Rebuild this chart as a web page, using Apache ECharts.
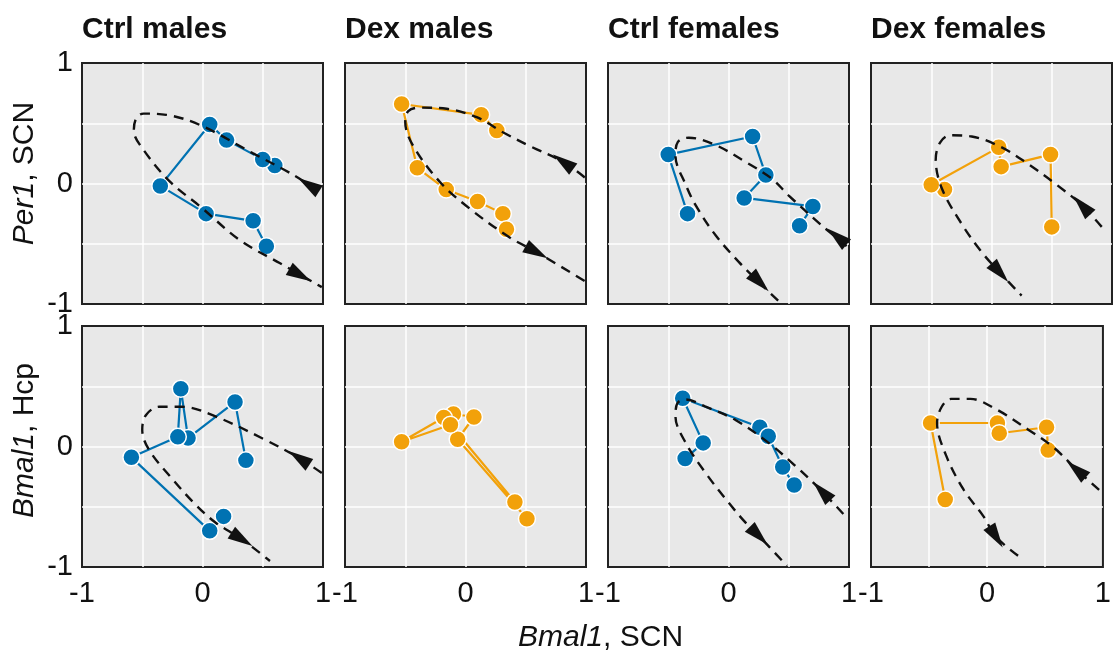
<!DOCTYPE html>
<html>
<head>
<meta charset="utf-8">
<script src="https://cdn.jsdelivr.net/npm/echarts@6/dist/echarts.min.js"></script>
<style>
  html, body { margin: 0; padding: 0; background: #fff; }
  #phasePlots { width: 1114px; height: 655px; }
</style>
</head>
<body>
<div id="phasePlots"></div>
<script>
// panel headings and row labels
const panelTitles = ['Ctrl males', 'Dex males', 'Ctrl females', 'Dex females'];
const rowGenes = ['Per1', 'Bmal1'];
const rowTissues = [', SCN', ', Hcp'];
const tickLabels = [-1, 0, 1];

// trajectories (Bmal1 SCN, y gene) — top row: Per1 SCN
const ctrlMalesPer1 = [[0.60, 0.15], [0.50, 0.20], [0.20, 0.36], [0.06, 0.49], [-0.35, -0.02], [0.03, -0.25], [0.42, -0.31], [0.53, -0.52]];
const dexMalesPer1 = [[0.26, 0.44], [0.13, 0.57], [-0.53, 0.66], [-0.40, 0.13], [-0.16, -0.05], [0.10, -0.15], [0.31, -0.25], [0.34, -0.38]];
const ctrlFemalesPer1 = [[-0.34, -0.25], [-0.50, 0.24], [0.20, 0.39], [0.31, 0.07], [0.13, -0.12], [0.70, -0.19], [0.59, -0.35]];
const dexFemalesPer1 = [[-0.39, -0.05], [-0.50, -0.01], [0.06, 0.30], [0.08, 0.14], [0.49, 0.24], [0.50, -0.36]];
// bottom row: Bmal1 Hcp
const ctrlMalesBmal1 = [[0.36, -0.115], [0.27, 0.37], [-0.12, 0.07], [-0.18, 0.48], [-0.205, 0.08], [-0.59, -0.09], [0.06, -0.70], [0.175, -0.58]];
const dexMalesBmal1 = [[0.51, -0.60], [-0.065, 0.06], [0.07, 0.245], [-0.10, 0.27], [-0.18, 0.24], [-0.53, 0.04], [-0.125, 0.18], [0.41, -0.46]];
const ctrlFemalesBmal1 = [[-0.36, -0.10], [-0.21, 0.03], [-0.38, 0.40], [0.26, 0.16], [0.33, 0.085], [0.45, -0.17], [0.545, -0.32]];
const dexFemalesBmal1 = [[-0.36, -0.44], [-0.486, 0.195], [0.09, 0.195], [0.106, 0.11], [0.514, 0.16], [0.528, -0.03]];

// reference (dashed) cycles, listed in the direction of travel
const ctrlMalesPer1Ref = [[0.96, -0.06], [0.73, 0.085], [0.42, 0.25], [-0.02, 0.485], [-0.30, 0.57], [-0.49, 0.58], [-0.55, 0.54], [-0.57, 0.44], [-0.49, 0.28], [-0.27, 0.015], [-0.02, -0.19], [0.31, -0.47], [0.64, -0.66], [0.99, -0.86]];
const dexMalesPer1Ref = [[0.99, 0.05], [0.81, 0.18], [0.535, 0.31], [0.31, 0.425], [0.093, 0.55], [-0.156, 0.62], [-0.38, 0.63], [-0.475, 0.60], [-0.50, 0.51], [-0.433, 0.31], [-0.21, 0.01], [0.037, -0.21], [0.37, -0.45], [0.59, -0.57], [0.99, -0.81]];
const ctrlFemalesPer1Ref = [[0.98, -0.52], [0.77, -0.345], [0.50, -0.10], [0.36, 0.04], [0.14, 0.18], [-0.11, 0.32], [-0.33, 0.38], [-0.42, 0.345], [-0.44, 0.23], [-0.355, -0.01], [-0.273, -0.18], [-0.107, -0.43], [0.085, -0.65], [0.264, -0.83], [0.43, -0.99]];
const dexFemalesPer1Ref = [[0.915, -0.36], [0.75, -0.18], [0.527, 0.0], [0.306, 0.16], [0.085, 0.30], [-0.164, 0.39], [-0.344, 0.40], [-0.427, 0.34], [-0.463, 0.20], [-0.41, -0.046], [-0.247, -0.336], [-0.081, -0.57], [0.07, -0.74], [0.25, -0.93]];
const ctrlMalesBmal1Ref = [[0.99, -0.22], [0.80, -0.095], [0.52, 0.056], [0.107, 0.25], [-0.17, 0.33], [-0.36, 0.33], [-0.47, 0.26], [-0.50, 0.14], [-0.445, -0.026], [-0.25, -0.27], [-0.06, -0.48], [0.107, -0.63], [0.327, -0.77], [0.56, -0.95]];
const ctrlFemalesBmal1Ref = [[0.953, -0.56], [0.774, -0.37], [0.554, -0.16], [0.333, 0.03], [0.058, 0.22], [-0.19, 0.33], [-0.355, 0.39], [-0.424, 0.36], [-0.44, 0.25], [-0.355, 0.03], [-0.19, -0.22], [0.0, -0.465], [0.14, -0.63], [0.25, -0.74], [0.485, -0.99]];
const dexFemalesBmal1Ref = [[0.967, -0.36], [0.77, -0.19], [0.578, -0.01], [0.356, 0.14], [0.078, 0.31], [-0.144, 0.395], [-0.31, 0.395], [-0.39, 0.33], [-0.43, 0.195], [-0.35, -0.08], [-0.20, -0.36], [-0.03, -0.58], [0.078, -0.75], [0.30, -0.93]];

// arrowheads sitting on the dashed cycles
const ctrlMalesPer1Arrows = [[0.88, -0.01], [0.81, -0.76]];
const dexMalesPer1Arrows = [[0.81, 0.18], [0.59, -0.57]];
const ctrlFemalesPer1Arrows = [[0.90, -0.44], [0.26, -0.82]];
const dexFemalesPer1Arrows = [[0.75, -0.18], [0.07, -0.74]];
const ctrlMalesBmal1Arrows = [[0.80, -0.095], [0.327, -0.77]];
const ctrlFemalesBmal1Arrows = [[0.774, -0.37], [0.25, -0.74]];
const dexFemalesBmal1Arrows = [[0.77, -0.19], [0.078, -0.75]];

const BLUE = '#0072b2';
const ORANGE = '#f2a10a';
const FONT = '"Liberation Sans", Arial, sans-serif';

const panels = [
  { pts: ctrlMalesPer1, ref: ctrlMalesPer1Ref, arrows: ctrlMalesPer1Arrows, color: BLUE },
  { pts: dexMalesPer1, ref: dexMalesPer1Ref, arrows: dexMalesPer1Arrows, color: ORANGE },
  { pts: ctrlFemalesPer1, ref: ctrlFemalesPer1Ref, arrows: ctrlFemalesPer1Arrows, color: BLUE },
  { pts: dexFemalesPer1, ref: dexFemalesPer1Ref, arrows: dexFemalesPer1Arrows, color: ORANGE },
  { pts: ctrlMalesBmal1, ref: ctrlMalesBmal1Ref, arrows: ctrlMalesBmal1Arrows, color: BLUE },
  { pts: dexMalesBmal1, ref: null, arrows: [], color: ORANGE },
  { pts: ctrlFemalesBmal1, ref: ctrlFemalesBmal1Ref, arrows: ctrlFemalesBmal1Arrows, color: BLUE },
  { pts: dexFemalesBmal1, ref: dexFemalesBmal1Ref, arrows: dexFemalesBmal1Arrows, color: ORANGE },
];

// rotation of an arrowhead = direction of the nearest segment of its cycle
const arrowAngle = (ref, p) => {
  let best = 0, bestD = Infinity;
  for (let i = 0; i < ref.length - 1; i++) {
    const mx = (ref[i][0] + ref[i + 1][0]) / 2, my = (ref[i][1] + ref[i + 1][1]) / 2;
    const d = (mx - p[0]) ** 2 + (my - p[1]) ** 2;
    if (d < bestD) { bestD = d; best = i; }
  }
  const dx = ref[best + 1][0] - ref[best][0], dy = ref[best + 1][1] - ref[best][1];
  return Math.atan2(dy, dx) * 180 / Math.PI - 90;
};

const lefts = [82, 345, 608, 871];
const tops = [63, 326];
const SIZE = 241;
const namePad = [[0, 0, 0, 20], [0, 0, 0, 12]];

const grid = [], xAxis = [], yAxis = [], series = [], title = [];

const tickFmt = v => (tickLabels.includes(v) ? String(v) : '');

panels.forEach((p, i) => {
  const col = i % 4, row = Math.floor(i / 4);
  grid.push({
    left: lefts[col], top: tops[row], width: SIZE, height: SIZE,
    show: true, backgroundColor: '#e8e8e8', borderColor: '#222', borderWidth: 2, z: 0,
  });
  xAxis.push({
    type: 'value', gridIndex: i, min: -1, max: 1, interval: 0.5,
    axisLine: { show: false }, axisTick: { show: false },
    axisLabel: { show: row === 1, formatter: tickFmt, fontSize: 29, color: '#111', margin: 12, fontFamily: FONT },
    splitLine: { show: true, showMinLine: false, showMaxLine: false, lineStyle: { color: '#fff', width: 1.5 } },
  });
  yAxis.push({
    type: 'value', gridIndex: i, min: -1, max: 1, interval: 0.5,
    axisLine: { show: false }, axisTick: { show: false },
    axisLabel: { show: col === 0, formatter: tickFmt, fontSize: 29, color: '#111', margin: 9, fontFamily: FONT },
    splitLine: { show: true, showMinLine: false, showMaxLine: false, lineStyle: { color: '#fff', width: 1.5 } },
    name: col === 0 ? `{i|${rowGenes[row]}}{n|${rowTissues[row]}}` : '',
    nameLocation: 'middle', nameRotate: 90, nameGap: 42,
    nameTextStyle: {
      padding: namePad[row],
      rich: {
        i: { fontSize: 30, fontStyle: 'italic', color: '#111', fontFamily: FONT },
        n: { fontSize: 30, color: '#111', fontFamily: FONT },
      },
    },
  });

  series.push({
    type: 'line', xAxisIndex: i, yAxisIndex: i, data: p.pts,
    symbol: 'circle', symbolSize: 17, showAllSymbol: true,
    itemStyle: { color: p.color, borderColor: '#fff', borderWidth: 1.5 },
    lineStyle: { color: p.color, width: 2.2 }, z: 2,
  });
  if (p.ref) {
    series.push({
      type: 'line', xAxisIndex: i, yAxisIndex: i, data: p.ref,
      smooth: 0.35, showSymbol: false, symbol: 'none',
      lineStyle: { color: '#111', width: 2.4, type: [10, 7] }, z: 3,
    });
    series.push({
      type: 'scatter', xAxisIndex: i, yAxisIndex: i,
      data: p.arrows.map(a => ({ value: a, symbolRotate: arrowAngle(p.ref, a) })),
      symbol: 'triangle', symbolSize: [14, 25],
      itemStyle: { color: '#111', opacity: 1 }, z: 4,
    });
  }
});

panelTitles.forEach((t, col) => {
  title.push({
    text: t, left: lefts[col], top: 15, padding: 0,
    textStyle: { fontSize: 30, fontWeight: 'bold', color: '#111', fontFamily: FONT },
  });
});

const myChart = echarts.init(document.getElementById('phasePlots'));
myChart.setOption({
  animation: false,
  title,
  grid, xAxis, yAxis, series,
  graphic: [{
    type: 'text', left: 518, top: 623, z: 10,
    style: {
      text: '{i|Bmal1}{n|, SCN}',
      rich: {
        i: { fontSize: 30, fontStyle: 'italic', fill: '#111', fontFamily: FONT },
        n: { fontSize: 30, fill: '#111', fontFamily: FONT },
      },
    },
  }],
});
</script>
</body>
</html>
